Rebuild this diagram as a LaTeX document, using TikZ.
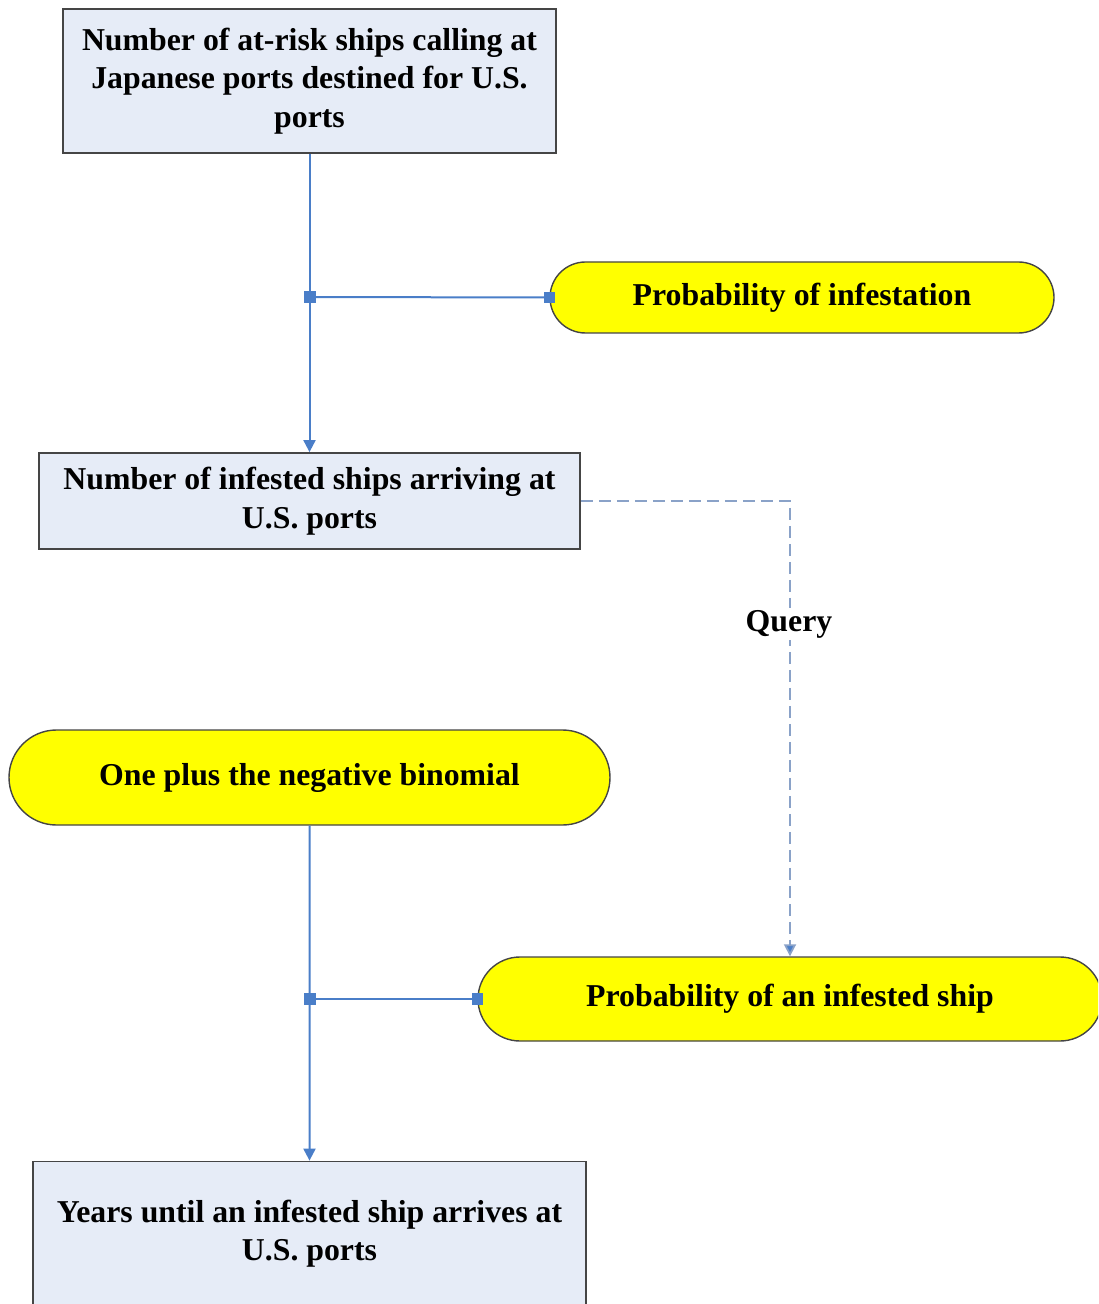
\documentclass[tikz,border=0pt]{standalone}
\usepackage{fontspec}
\setmainfont{Liberation Serif}
\usepackage{xcolor}
\usetikzlibrary{shapes, arrows, arrows.meta, positioning, calc}

\definecolor{linkblue}{HTML}{4A7EC8}
\definecolor{boxfill}{HTML}{E6ECF7}
\definecolor{boxedge}{HTML}{454545}
\definecolor{querygrey}{HTML}{8AA2C8}
\definecolor{pillyellow}{HTML}{FFFF00}

\begin{document}
\begin{tikzpicture}[x=0.5pt, y=-0.5pt, every node/.style={font=\fontsize{15.9}{19.3}\selectfont\bfseries}]

		\tikzstyle{infobox}=[rectangle, draw=boxedge, line width=0.9pt, fill=boxfill, align=center, inner sep=0pt]
		\tikzstyle{pill}=[rounded rectangle, draw=boxedge, line width=0.7pt, fill=pillyellow, align=center, inner sep=0pt]
		\tikzstyle{junc}=[rectangle, fill=linkblue, minimum size=5.6pt, inner sep=0pt]
		\tikzstyle{link}=[draw=linkblue, line width=1pt]

		\clip (0,0) rectangle (1098,1304);

		\node (ships) at (309.5,81) [infobox, minimum width=246.5pt, minimum height=72pt] {Number of at-risk ships calling at\\Japanese ports destined for U.S.\\ports};
		\node (infest) at (802,297.5) [pill, minimum width=252pt, minimum height=35.5pt] {Probability of infestation};
		\node (arrive) at (309.5,501) [infobox, minimum width=270.5pt, minimum height=48pt] {Number of infested ships arriving at\\U.S. ports};
		\node (negbin) at (309.5,777.5) [pill, minimum width=300.5pt, minimum height=47.5pt] {One plus the negative binomial};
		\node (probship) at (790,999) [pill, minimum width=312pt, minimum height=42pt] {Probability of an infested ship};
		\node (years) at (309.5,1233.5) [infobox, minimum width=276.5pt, minimum height=72pt] {Years until an infested ship arrives at\\U.S. ports};

		\node (j1) at (310,297) [junc] {};
		\node (j2) at (310,999) [junc] {};
		\node (e1) at (infest.west) [junc] {};
		\node (e2) at (probship.west) [junc] {};


		\draw [link, -{Triangle[length=6pt, width=6pt]}] (ships) -- (arrive);
		\draw [link] (j1.center) -- (e1.center);

		\draw [link, -{Triangle[length=6pt, width=6pt]}] (negbin) -- (years);
		\draw [link] (j2.center) -- (e2.center);

		\draw [draw=querygrey, line width=0.9pt, dash pattern=on 6pt off 3pt, -{Triangle[length=6pt, width=6pt, fill=linkblue]}] (arrive.east) -| (probship.north);
		\node (query) at (789,624) [fill=white, inner sep=1pt] {Query};

		\node at (j1) [junc] {};
		\node at (j2) [junc] {};
		\node at (e1) [junc] {};
		\node at (e2) [junc] {};
\end{tikzpicture}
\end{document}
